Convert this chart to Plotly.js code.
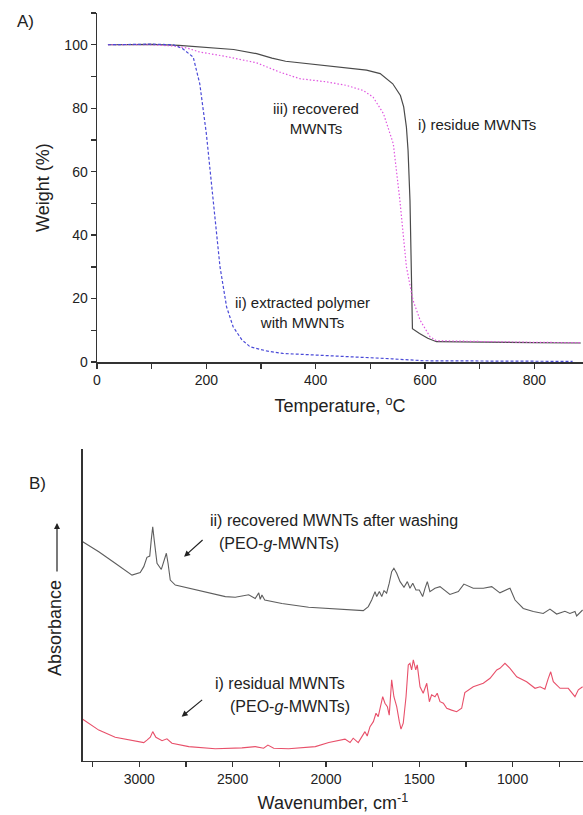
<!DOCTYPE html>
<html>
<head>
<meta charset="utf-8">
<script src="https://cdn.plot.ly/plotly-3.0.1.min.js"></script>
<style>html,body{margin:0;padding:0;background:#fff;}#chart{width:583px;height:815px;}</style>
</head>
<body>
<div id="chart"></div>
<script>
// ---------- Panel A: TGA ----------
const resT = [20, 60, 100, 150, 200, 250, 292, 320, 345, 400, 450, 493, 518, 541, 555, 561, 566, 569, 572.5, 575.5, 576.5, 577, 590, 605, 621, 700, 800, 885];
const resW = [100, 100.1, 100.1, 99.8, 99.2, 98.5, 97.2, 95.8, 94.8, 93.8, 93.0, 92.0, 90.9, 87.7, 84, 80.4, 74, 66.7, 51, 30, 15, 10.5, 9.0, 7.5, 6.4, 6.2, 6.1, 6.0];

const recT = [20, 60, 100, 140, 164, 188, 230, 292, 334, 371, 420, 456, 487, 505, 524, 542, 554, 566, 578, 591, 609, 621, 700, 800, 885];
const recW = [100, 100, 100, 99.6, 99.0, 97.7, 96.5, 94.3, 91.4, 89.3, 88.3, 87.2, 85.6, 83.5, 78.3, 68.8, 51, 30, 19.5, 13.2, 8, 6.7, 6.4, 6.2, 6.1];

const extT = [20, 60, 100, 140, 157, 176, 188, 200, 212, 225, 237, 249, 265, 280, 310, 340, 400, 475, 540, 597, 700, 800, 870];
const extW = [100, 100.1, 100.2, 100, 98.7, 96.1, 87.7, 72, 51, 30, 17.4, 11.1, 7, 4.8, 3.5, 2.7, 2.2, 1.67, 1.0, 0.4, 0.3, 0.25, 0.2];

// ---------- Panel B: FTIR ----------
const washedWn = [3303, 3217, 3129, 3039, 2995, 2976, 2959, 2944, 2936, 2928, 2920, 2905, 2882, 2866, 2855, 2846, 2834, 2807, 2735, 2628, 2539, 2486, 2414, 2379, 2360, 2352, 2343, 2328, 2236, 2093, 1968, 1889, 1800, 1773, 1755, 1737, 1728, 1714, 1701, 1689, 1675, 1661, 1648, 1636, 1621, 1603, 1582, 1564, 1550, 1535, 1518, 1500, 1482, 1469, 1457, 1443, 1416, 1389, 1336, 1291, 1261, 1211, 1157, 1112, 1068, 1014, 987, 943, 889, 836, 800, 764, 720, 693, 666, 657, 625];
const washedAbs = [0.703, 0.671, 0.634, 0.596, 0.604, 0.623, 0.653, 0.657, 0.708, 0.751, 0.708, 0.634, 0.614, 0.644, 0.666, 0.634, 0.580, 0.564, 0.554, 0.538, 0.527, 0.525, 0.533, 0.521, 0.539, 0.518, 0.532, 0.516, 0.505, 0.493, 0.489, 0.486, 0.482, 0.495, 0.516, 0.543, 0.527, 0.543, 0.527, 0.546, 0.538, 0.570, 0.607, 0.618, 0.602, 0.575, 0.557, 0.575, 0.554, 0.570, 0.548, 0.548, 0.527, 0.554, 0.575, 0.543, 0.554, 0.559, 0.534, 0.543, 0.567, 0.554, 0.554, 0.559, 0.539, 0.554, 0.516, 0.489, 0.479, 0.473, 0.487, 0.471, 0.480, 0.473, 0.479, 0.465, 0.484];

const residWn = [3303, 3217, 3129, 3039, 2976, 2959, 2941, 2928, 2911, 2878, 2852, 2825, 2735, 2593, 2450, 2379, 2334, 2311, 2280, 2200, 2057, 1985, 1925, 1898, 1871, 1854, 1827, 1809, 1791, 1779, 1764, 1746, 1732, 1720, 1707, 1696, 1684, 1671, 1661, 1648, 1636, 1621, 1607, 1598, 1586, 1571, 1559, 1550, 1541, 1532, 1519, 1511, 1496, 1479, 1460, 1446, 1434, 1416, 1404, 1389, 1371, 1353, 1327, 1300, 1273, 1256, 1211, 1157, 1121, 1085, 1068, 1041, 1014, 978, 925, 880, 853, 827, 809, 796, 782, 746, 702, 666, 648, 625];
const residAbs = [0.134, 0.099, 0.076, 0.065, 0.059, 0.067, 0.076, 0.094, 0.076, 0.065, 0.071, 0.057, 0.046, 0.039, 0.042, 0.046, 0.041, 0.051, 0.041, 0.039, 0.046, 0.059, 0.065, 0.070, 0.059, 0.073, 0.059, 0.076, 0.094, 0.080, 0.110, 0.126, 0.153, 0.142, 0.174, 0.206, 0.185, 0.174, 0.147, 0.260, 0.206, 0.174, 0.126, 0.102, 0.121, 0.206, 0.308, 0.313, 0.292, 0.324, 0.292, 0.308, 0.238, 0.217, 0.249, 0.190, 0.212, 0.206, 0.217, 0.190, 0.185, 0.169, 0.163, 0.158, 0.169, 0.219, 0.238, 0.249, 0.265, 0.292, 0.297, 0.313, 0.297, 0.270, 0.254, 0.233, 0.238, 0.230, 0.265, 0.286, 0.254, 0.233, 0.233, 0.206, 0.228, 0.238];

const tempTicks = [0, 200, 400, 600, 800];
const weightTicks = [0, 20, 40, 60, 80, 100];
const wnTicks = [3000, 2500, 2000, 1500, 1000];

const FONT = "'Liberation Sans', Arial, sans-serif";
const AX = '#333333';

const traces = [
  {x: resT, y: resW, xaxis: 'x', yaxis: 'y', mode: 'lines', name: 'i) residue MWNTs',
   line: {color: '#4a4a4a', width: 1.2}},
  {x: recT, y: recW, xaxis: 'x', yaxis: 'y', mode: 'lines', name: 'iii) recovered MWNTs',
   line: {color: '#e055e0', width: 1.2, dash: '1.5px,2px'}},
  {x: extT, y: extW, xaxis: 'x', yaxis: 'y', mode: 'lines', name: 'ii) extracted polymer with MWNTs',
   line: {color: '#4a4ad8', width: 1.2, dash: '3px,2px'}},
  {x: washedWn, y: washedAbs, xaxis: 'x2', yaxis: 'y2', mode: 'lines', name: 'ii) recovered MWNTs after washing',
   line: {color: '#5e5e5e', width: 1.1}},
  {x: residWn, y: residAbs, xaxis: 'x2', yaxis: 'y2', mode: 'lines', name: 'i) residual MWNTs',
   line: {color: '#e8506a', width: 1.1}}
];

const axCommon = {
  showline: true, linecolor: AX, linewidth: 1.5, showgrid: false, zeroline: false,
  ticks: 'outside', ticklen: 5, tickwidth: 1.3, tickcolor: AX,
  tickfont: {family: FONT, size: 14, color: '#222'}
};

const layout = {
  width: 583, height: 815,
  margin: {l: 0, r: 0, t: 0, b: 0},
  paper_bgcolor: '#fff', plot_bgcolor: '#fff',
  showlegend: false,
  font: {family: FONT, color: '#222'},
  xaxis: Object.assign({}, axCommon, {
    domain: [0.1664, 1], range: [0, 889], anchor: 'y',
    tickvals: tempTicks, ticktext: tempTicks.map(String),
    minor: {dtick: 100, tick0: 0, ticks: 'outside', ticklen: 5, tickwidth: 1.3, tickcolor: AX},
    title: {text: 'Temperature, <sup>o</sup>C', font: {family: FONT, size: 18, color: '#222'}, standoff: 12}
  }),
  yaxis: Object.assign({}, axCommon, {
    domain: [0.5558, 0.984], range: [0, 110], anchor: 'x',
    tickvals: weightTicks, ticktext: weightTicks.map(String),
    minor: {dtick: 10, tick0: 0, ticks: 'outside', ticklen: 5, tickwidth: 1.3, tickcolor: AX},
    title: {text: 'Weight (%)', font: {family: FONT, size: 18, color: '#222'}, standoff: 10}
  }),
  xaxis2: Object.assign({}, axCommon, {
    domain: [0.1419, 1], range: [3303, 623], anchor: 'y2',
    tickvals: wnTicks, ticktext: wnTicks.map(String),
    minor: {dtick: 250, tick0: 0, ticks: 'outside', ticklen: 5, tickwidth: 1.3, tickcolor: AX},
    title: {text: 'Wavenumber, cm<sup>-1</sup>', font: {family: FONT, size: 18, color: '#222'}, standoff: 10}
  }),
  yaxis2: Object.assign({}, axCommon, {
    domain: [0.0663, 0.449], range: [0, 1], anchor: 'x2',
    ticks: '', showticklabels: false
  }),
  annotations: [
    {xref: 'paper', yref: 'paper', x: 0.026, y: 1 - 22/815, text: 'A)', showarrow: false,
     xanchor: 'left', yanchor: 'middle', font: {family: FONT, size: 17, color: '#222'}},
    {xref: 'paper', yref: 'paper', x: 0.046, y: 1 - 483/815, text: 'B)', showarrow: false,
     xanchor: 'left', yanchor: 'middle', font: {family: FONT, size: 17, color: '#222'}},
    {xref: 'paper', yref: 'paper', x: 55/583, y: 1 - 628/815, text: 'Absorbance', textangle: -90,
     showarrow: false, xanchor: 'center', yanchor: 'middle', font: {family: FONT, size: 18, color: '#222'}},
    {xref: 'x', yref: 'y', x: 400, y: 76.8, text: 'iii) recovered<br>MWNTs', showarrow: false,
     align: 'center', font: {family: FONT, size: 15, color: '#222'}},
    {xref: 'x', yref: 'y', x: 696, y: 74.9, text: 'i) residue MWNTs', showarrow: false,
     font: {family: FONT, size: 15, color: '#222'}},
    {xref: 'x', yref: 'y', x: 375, y: 15.7, text: 'ii) extracted polymer<br>with MWNTs', showarrow: false,
     align: 'center', font: {family: FONT, size: 15, color: '#222'}},
    {xref: 'x2', yref: 'y2', x: 2632, y: 0.772, text: 'ii) recovered MWNTs after washing', showarrow: false,
     xanchor: 'left', font: {family: FONT, size: 16, color: '#222'}},
    {xref: 'x2', yref: 'y2', x: 2585, y: 0.698, text: '(PEO-<i>g</i>-MWNTs)', showarrow: false,
     xanchor: 'left', font: {family: FONT, size: 16, color: '#222'}},
    {xref: 'x2', yref: 'y2', x: 2604, y: 0.249, text: 'i) residual MWNTs', showarrow: false,
     xanchor: 'left', font: {family: FONT, size: 16, color: '#222'}},
    {xref: 'x2', yref: 'y2', x: 2523, y: 0.174, text: '(PEO-<i>g</i>-MWNTs)', showarrow: false,
     xanchor: 'left', font: {family: FONT, size: 16, color: '#222'}},
    {xref: 'x2', yref: 'y2', x: 2760, y: 0.655, text: '', showarrow: true, ax: 20, ay: -18,
     arrowhead: 2, arrowsize: 1, arrowwidth: 1.2, arrowcolor: '#222'},
    {xref: 'x2', yref: 'y2', x: 2773, y: 0.142, text: '', showarrow: true, ax: 22, ay: -18,
     arrowhead: 2, arrowsize: 1, arrowwidth: 1.2, arrowcolor: '#222'},
    {xref: 'paper', yref: 'paper', x: 57/583, y: 1 - 523/815, text: '', showarrow: true, ax: 0, ay: 50,
     arrowhead: 2, arrowsize: 1, arrowwidth: 1.2, arrowcolor: '#222'}
  ]
};

Plotly.newPlot('chart', traces, layout, {staticPlot: true, displayModeBar: false});
</script>
</body>
</html>
